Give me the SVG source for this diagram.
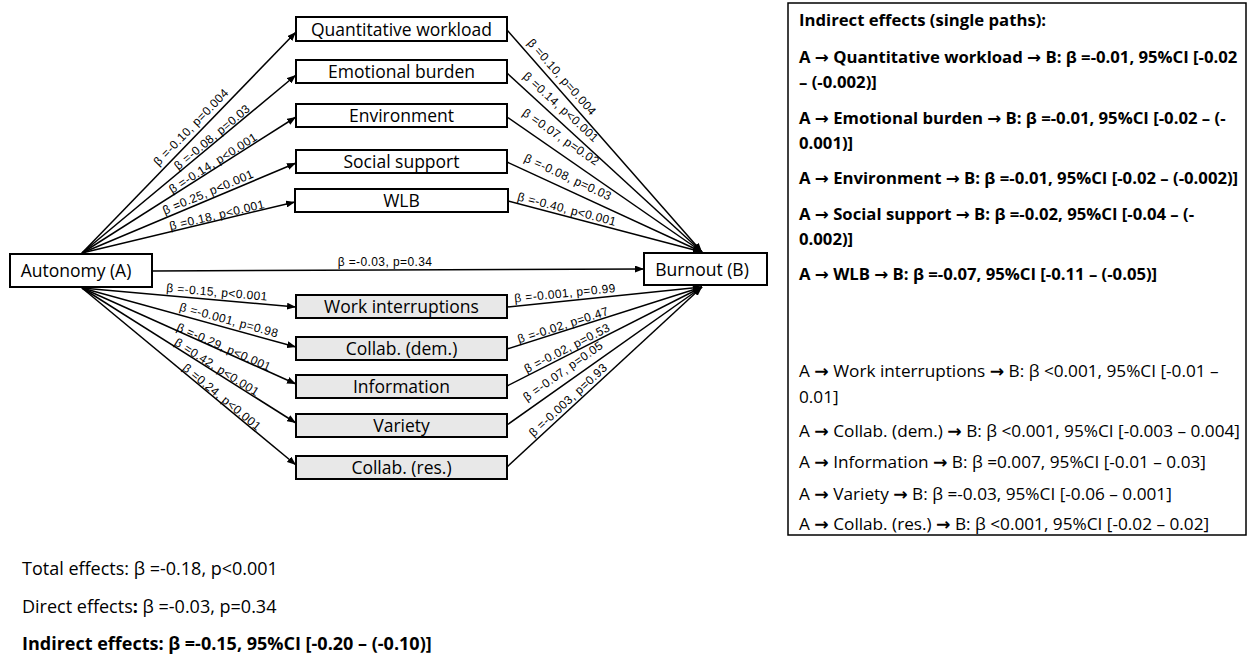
<svg xmlns="http://www.w3.org/2000/svg" width="1250" height="654" viewBox="0 0 1250 654">
<style>
.box{fill:#fff;stroke:#000;stroke-width:2}
.gbox{fill:#e8e8e8;stroke:#000;stroke-width:2}
.bl{font-family:"Open Sans","Liberation Sans",sans-serif;font-size:17.5px;fill:#000;text-anchor:middle}
.con{stroke:#000;stroke-width:1.5;fill:none;marker-end:url(#arr)}
.el{font-family:"Liberation Sans",Arial,sans-serif;font-size:12px;letter-spacing:0.4px;fill:#000;text-anchor:middle}
.pt{font-family:"Open Sans","Liberation Sans",sans-serif;font-size:18px;fill:#000}
.pr{font-family:"Open Sans","Liberation Sans",sans-serif;font-size:17.2px;fill:#000}
.pb{font-family:"Open Sans","Liberation Sans",sans-serif;font-size:16.7px;font-weight:bold;fill:#000}
.sb{font-family:"Open Sans","Liberation Sans",sans-serif;font-size:18px;font-weight:bold;fill:#000}
.ar{font-family:"DejaVu Sans",sans-serif;font-weight:bold}
.b{font-weight:bold}
</style>
<defs>
<marker id="arr" viewBox="0 0 9 7" refX="9" refY="3.5" markerWidth="9" markerHeight="7" markerUnits="userSpaceOnUse" orient="auto">
<path d="M0,0 L9,3.5 L0,7 z" fill="#000"/>
</marker>
</defs>
<rect width="1250" height="654" fill="#fff"/>

<g id="connectors">
<line class="con" x1="82" y1="253" x2="296" y2="32"/>
<line class="con" x1="82" y1="253" x2="296" y2="75"/>
<line class="con" x1="82" y1="253" x2="296" y2="117"/>
<line class="con" x1="82" y1="253" x2="296" y2="163"/>
<line class="con" x1="82" y1="253" x2="295" y2="202"/>
<line class="con" x1="82" y1="288" x2="296" y2="307"/>
<line class="con" x1="82" y1="288" x2="296" y2="347"/>
<line class="con" x1="82" y1="288" x2="296" y2="384"/>
<line class="con" x1="82" y1="288" x2="296" y2="423"/>
<line class="con" x1="82" y1="288" x2="296" y2="465"/>
<line class="con" x1="152" y1="271" x2="644" y2="269"/>
<line class="con" x1="507" y1="30" x2="702" y2="252"/>
<line class="con" x1="507" y1="73" x2="702" y2="252"/>
<line class="con" x1="507" y1="117" x2="702" y2="252"/>
<line class="con" x1="507" y1="162" x2="702" y2="252"/>
<line class="con" x1="508" y1="201" x2="702" y2="252"/>
<line class="con" x1="507" y1="307" x2="702" y2="287"/>
<line class="con" x1="507" y1="349" x2="702" y2="287"/>
<line class="con" x1="507" y1="386" x2="702" y2="287"/>
<line class="con" x1="507" y1="425" x2="702" y2="287"/>
<line class="con" x1="507" y1="467" x2="702" y2="287"/>
<g id="edge-labels">
<text class="el" x="191" y="127" dy="0.35em" transform="rotate(-45.9 191 127)">β =-0.10, p=0.004</text>
<text class="el" x="212" y="137" dy="0.35em" transform="rotate(-39.8 212 137)">β =-0.08, p=0.03</text>
<text class="el" x="213" y="163" dy="0.35em" transform="rotate(-32.4 213 163)">β =-0.14, p&lt;0.001</text>
<text class="el" x="208" y="192" dy="0.35em" transform="rotate(-22.8 208 192)">β =0.25, p&lt;0.001</text>
<text class="el" x="217" y="215" dy="0.35em" transform="rotate(-13.4 217 215)">β =0.18, p&lt;0.001</text>
<text class="el" x="217" y="292" dy="0.35em" transform="rotate(5.1 217 292)">β =-0.15, p&lt;0.001</text>
<text class="el" x="229" y="320" dy="0.35em" transform="rotate(15.4 229 320)">β =-0.001, p=0.98</text>
<text class="el" x="224" y="347" dy="0.35em" transform="rotate(23.9 224 347)">β =-0.29, p&lt;0.001</text>
<text class="el" x="217" y="367" dy="0.35em" transform="rotate(32.2 217 367)">β =0.42, p&lt;0.001</text>
<text class="el" x="222" y="397" dy="0.35em" transform="rotate(39.6 222 397)">β =0.24, p&lt;0.001</text>
<text class="el" x="385" y="266">β =-0.03, p=0.34</text>
<text class="el" x="562" y="77" dy="0.35em" transform="rotate(48.7 562 77)">β =0.10, p=0.004</text>
<text class="el" x="561" y="107" dy="0.35em" transform="rotate(42.5 561 107)">β =0.14, p&lt;0.001</text>
<text class="el" x="561" y="137" dy="0.35em" transform="rotate(34.7 561 137)">β =0.07, p=0.02</text>
<text class="el" x="568" y="177" dy="0.35em" transform="rotate(24.8 568 177)">β =-0.08, p=0.03</text>
<text class="el" x="567" y="209" dy="0.35em" transform="rotate(14.7 567 209)">β =-0.40, p&lt;0.001</text>
<text class="el" x="565" y="293" dy="0.35em" transform="rotate(-5.9 565 293)">β =-0.001, p=0.99</text>
<text class="el" x="563" y="325" dy="0.35em" transform="rotate(-17.6 563 325)">β =-0.02, p=0.47</text>
<text class="el" x="567" y="348" dy="0.35em" transform="rotate(-26.9 567 348)">β =-0.02, p=0.53</text>
<text class="el" x="563" y="371" dy="0.35em" transform="rotate(-35.3 563 371)">β =-0.07, p=0.05</text>
<text class="el" x="568" y="400" dy="0.35em" transform="rotate(-42.7 568 400)">β =-0.003, p=0.93</text>
</g>
</g>

<g id="autonomy"><rect class="box" x="10" y="254" width="142" height="33"/><text class="bl" x="76" y="277">Autonomy (A)</text></g>
<g id="burnout"><rect class="box" x="644" y="253" width="123" height="32"/><text class="bl" x="702" y="275.5">Burnout (B)</text></g>

<g id="quant"><rect class="box" x="296" y="17" width="211" height="24"/><text class="bl" x="401.5" y="35.5">Quantitative workload</text></g>
<g id="emotional"><rect class="box" x="296" y="60" width="211" height="23"/><text class="bl" x="401.5" y="78">Emotional burden</text></g>
<g id="environment"><rect class="box" x="296" y="104" width="211" height="23"/><text class="bl" x="401.5" y="122">Environment</text></g>
<g id="social"><rect class="box" x="296" y="150" width="211" height="23"/><text class="bl" x="401.5" y="168">Social support</text></g>
<g id="wlb"><rect class="box" x="295" y="189" width="213" height="23"/><text class="bl" x="401.5" y="207">WLB</text></g>

<g id="workint"><rect class="gbox" x="296" y="295" width="211" height="23"/><text class="bl" x="401.5" y="313">Work interruptions</text></g>
<g id="collabdem"><rect class="gbox" x="296" y="337" width="211" height="23"/><text class="bl" x="401.5" y="355">Collab. (dem.)</text></g>
<g id="information"><rect class="gbox" x="296" y="375" width="211" height="23"/><text class="bl" x="401.5" y="393">Information</text></g>
<g id="variety"><rect class="gbox" x="296" y="414" width="211" height="23"/><text class="bl" x="401.5" y="432">Variety</text></g>
<g id="collabres"><rect class="gbox" x="296" y="456" width="211" height="23"/><text class="bl" x="401.5" y="474">Collab. (res.)</text></g>

<g id="panel">
<rect x="788" y="3" width="458" height="532" fill="#fff" stroke="#000" stroke-width="1.5"/>
<text class="pb" x="799" y="26">Indirect effects (single paths):</text>
<text class="pb" x="799" y="63">A <tspan class="ar">→</tspan> Quantitative workload <tspan class="ar">→</tspan> B: β =-0.01, 95%CI [-0.02</text>
<text class="pb" x="799" y="88">– (-0.002)]</text>
<text class="pb" x="799" y="124">A <tspan class="ar">→</tspan> Emotional burden <tspan class="ar">→</tspan> B: β =-0.01, 95%CI [-0.02 – (-</text>
<text class="pb" x="799" y="149">0.001)]</text>
<text class="pb" x="799" y="184">A <tspan class="ar">→</tspan> Environment <tspan class="ar">→</tspan> B: β =-0.01, 95%CI [-0.02 – (-0.002)]</text>
<text class="pb" x="799" y="220">A <tspan class="ar">→</tspan> Social support <tspan class="ar">→</tspan> B: β =-0.02, 95%CI [-0.04 – (-</text>
<text class="pb" x="799" y="245">0.002)]</text>
<text class="pb" x="799" y="280">A <tspan class="ar">→</tspan> WLB <tspan class="ar">→</tspan> B: β =-0.07, 95%CI [-0.11 – (-0.05)]</text>
<text class="pr" x="799" y="377">A <tspan class="ar">→</tspan> Work interruptions <tspan class="ar">→</tspan> B: β &lt;0.001, 95%CI [-0.01 –</text>
<text class="pr" x="799" y="403">0.01]</text>
<text class="pr" x="799" y="437">A <tspan class="ar">→</tspan> Collab. (dem.) <tspan class="ar">→</tspan> B: β &lt;0.001, 95%CI [-0.003 – 0.004]</text>
<text class="pr" x="799" y="468">A <tspan class="ar">→</tspan> Information <tspan class="ar">→</tspan> B: β =0.007, 95%CI [-0.01 – 0.03]</text>
<text class="pr" x="799" y="500">A <tspan class="ar">→</tspan> Variety <tspan class="ar">→</tspan> B: β =-0.03, 95%CI [-0.06 – 0.001]</text>
<text class="pr" x="799" y="530">A <tspan class="ar">→</tspan> Collab. (res.) <tspan class="ar">→</tspan> B: β &lt;0.001, 95%CI [-0.02 – 0.02]</text>
</g>

<g id="summary">
<text class="pt" x="22" y="575">Total effects: β =-0.18, p&lt;0.001</text>
<text class="pt" x="22" y="613">Direct effects<tspan class="b">:</tspan> β =-0.03, p=0.34</text>
<text class="sb" x="22" y="650">Indirect effects: β =-0.15, 95%CI [-0.20 – (-0.10)]</text>
</g>
</svg>
